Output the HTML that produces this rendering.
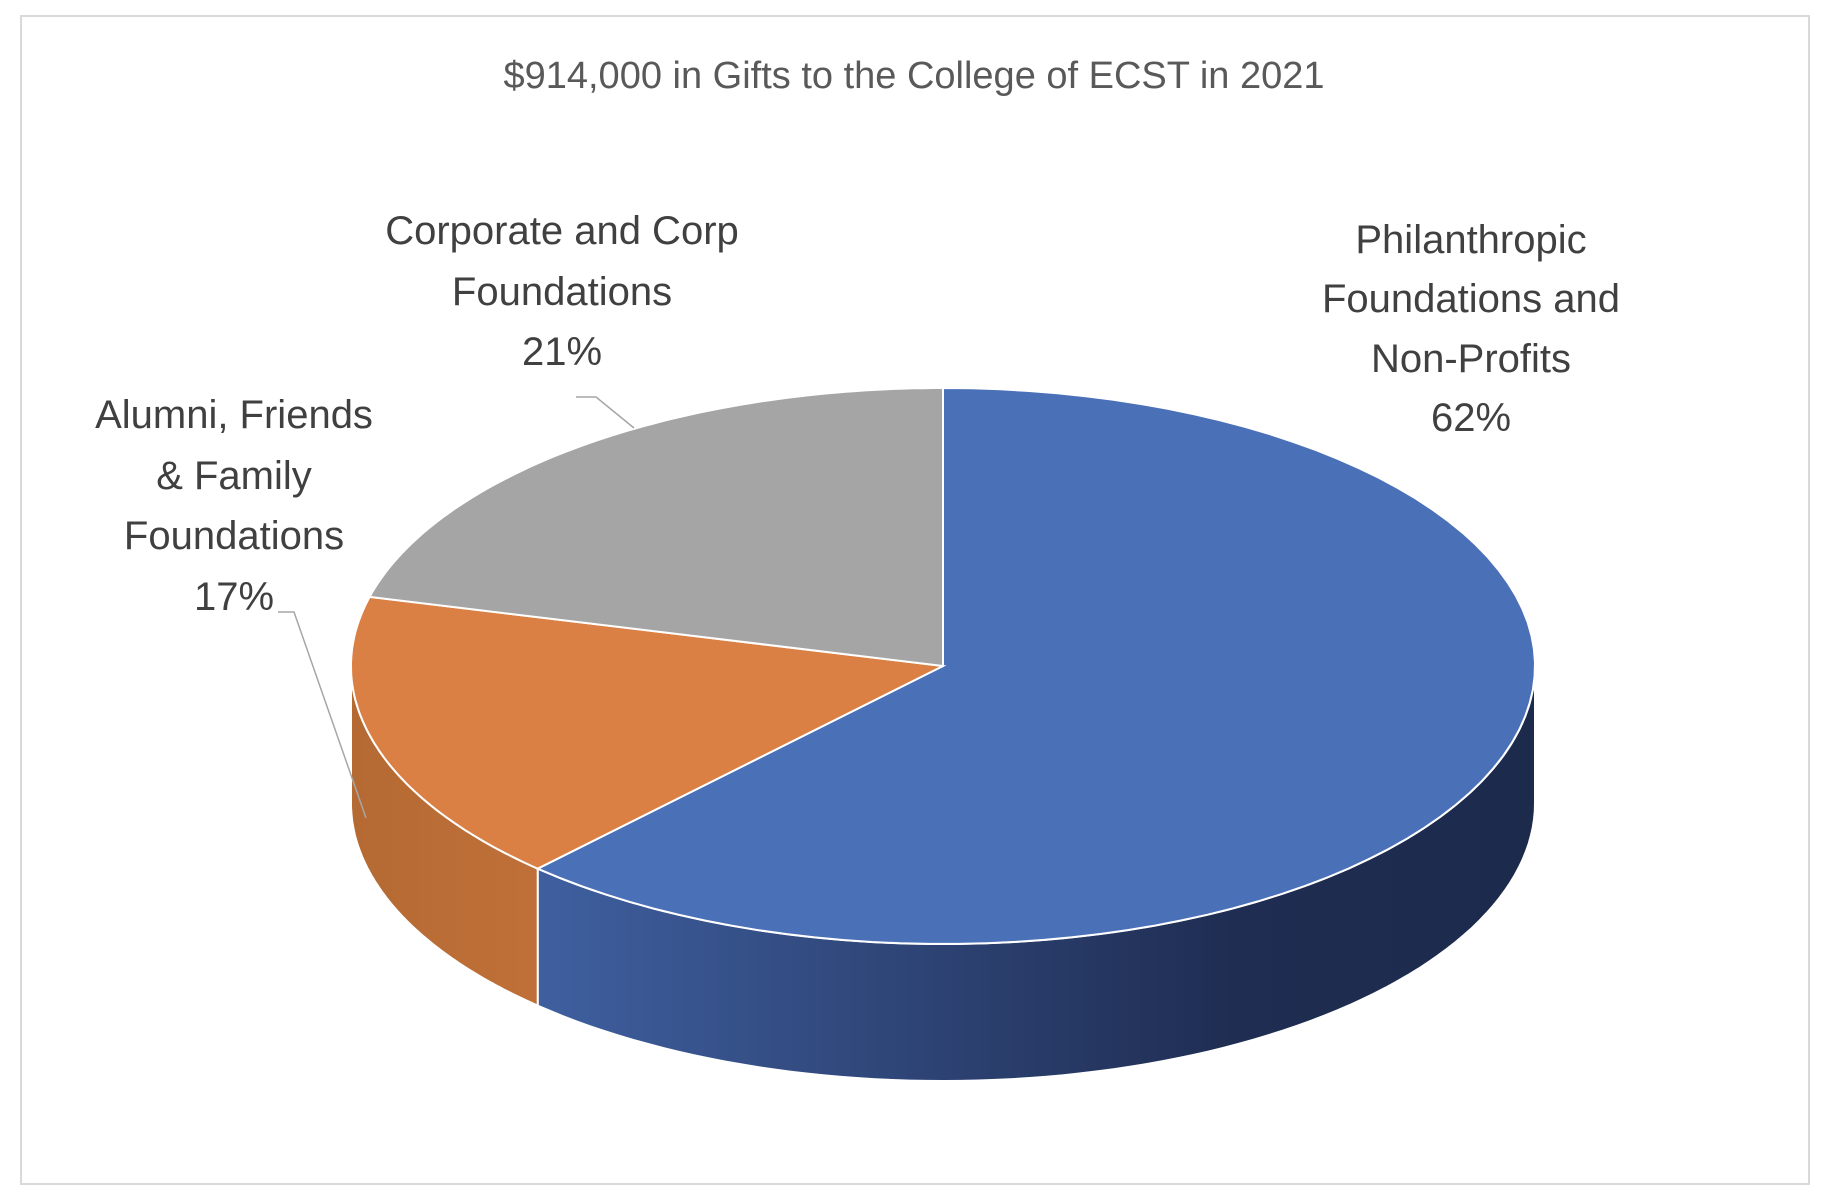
<!DOCTYPE html>
<html><head><meta charset="utf-8"><style>
html,body{margin:0;padding:0;background:#fff}
svg{display:block}
text{font-family:"Liberation Sans",sans-serif}
</style></head><body>
<svg id="chart" width="1832" height="1200" viewBox="0 0 1832 1200" xmlns="http://www.w3.org/2000/svg">
<defs>
<linearGradient id="blueSide" x1="0" x2="1" y1="0" y2="0">
<stop offset="0" stop-color="#3f5f9f"/><stop offset="0.7" stop-color="#1f2d52"/><stop offset="1" stop-color="#1c2a4c"/></linearGradient>
<linearGradient id="orangeSide" x1="0" x2="1" y1="0" y2="0">
<stop offset="0" stop-color="#b56a33"/><stop offset="1" stop-color="#bf7038"/></linearGradient>
</defs>
<rect x="21" y="16" width="1788" height="1168" fill="#fff" stroke="#d9d9d9" stroke-width="2"/>
<text x="914" y="88" text-anchor="middle" font-size="38" fill="#595959">$914,000 in Gifts to the College of ECST in 2021</text>
<g id="sides"></g>
<g id="tops"></g>
<g font-size="40" fill="#404040" text-anchor="middle">
<text x="562"><tspan x="562" y="244">Corporate and Corp</tspan><tspan x="562" y="305">Foundations</tspan><tspan x="562" y="365">21%</tspan></text>
<text><tspan x="1471" y="253">Philanthropic</tspan><tspan x="1471" y="312">Foundations and</tspan><tspan x="1471" y="372">Non-Profits</tspan><tspan x="1471" y="431">62%</tspan></text>
<text><tspan x="234" y="428">Alumni, Friends</tspan><tspan x="234" y="489">&amp; Family</tspan><tspan x="234" y="549">Foundations</tspan><tspan x="234" y="610">17%</tspan></text>
</g>
<polyline points="576,397 596,397 634,428" fill="none" stroke="#a6a6a6" stroke-width="1.5"/>
<polyline points="278,612 294,612 366,818" fill="none" stroke="#a6a6a6" stroke-width="1.5"/>
</svg>
<script>
const categories = ["Philanthropic Foundations and Non-Profits", "Alumni, Friends & Family Foundations", "Corporate and Corp Foundations"];
const values = [62, 17, 21];
const topColors = ["#4a70b8", "#db8044", "#a5a5a5"];
const sideFills = ["url(#blueSide)", "url(#orangeSide)", "#8a8a8a"];
const names = ["slice-philanthropic", "slice-alumni", "slice-corporate"];
const cx = 943, cy = 666, rx = 592, ry = 278, depth = 137;
const NS = "http://www.w3.org/2000/svg";
function pt(t, dy) { return [cx + rx * Math.sin(t), cy - ry * Math.cos(t) + (dy || 0)]; }
function arcPath(a, b, dy) {
  let s = "";
  const n = 80;
  for (let i = 0; i <= n; i++) { const p = pt(a + (b - a) * i / n, dy); s += (i ? " L" : "") + p[0].toFixed(1) + "," + p[1].toFixed(1); }
  return s;
}
const total = values.reduce((a, b) => a + b, 0);
const sides = document.getElementById("sides"), tops = document.getElementById("tops");
let start = 0;
values.forEach((v, i) => {
  const end = start + v / total * 2 * Math.PI;
  const a = Math.max(start, Math.PI / 2), b = Math.min(end, 3 * Math.PI / 2);
  if (b > a) {
    const side = document.createElementNS(NS, "path");
    
    
    const back = arcPath(b, a, depth);
    side.setAttribute("d", "M" + arcPath(a, b, 0) + " L" + back + " Z");
    side.setAttribute("fill", sideFills[i]);
    side.setAttribute("stroke", "#fff");
    side.setAttribute("stroke-width", "2");
    sides.appendChild(side);
  }
  const top = document.createElementNS(NS, "path");
  
  
  top.setAttribute("d", "M" + cx + "," + cy + " L" + arcPath(start, end, 0) + " Z");
  top.setAttribute("fill", topColors[i]);
  top.setAttribute("stroke", "#fff");
  top.setAttribute("stroke-width", "2");
  tops.appendChild(top);
  start = end;
});
</script>
</body></html>
